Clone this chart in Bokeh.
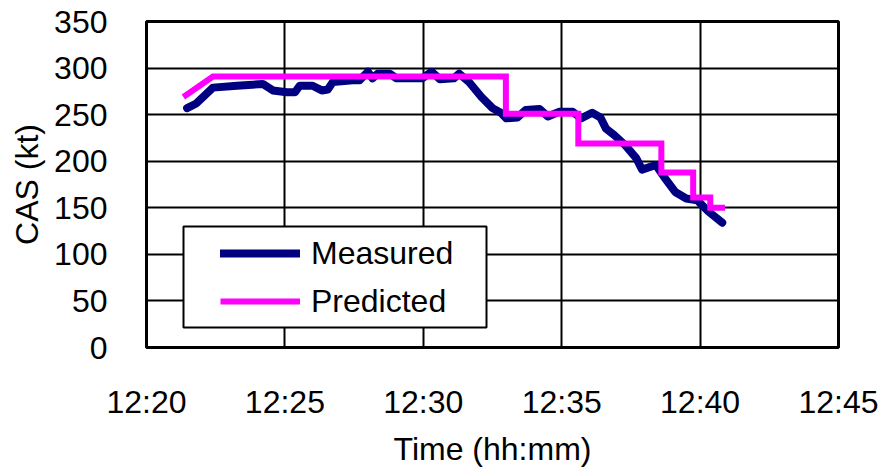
import pandas as pd
from bokeh.plotting import figure
from bokeh.models import Range1d, FixedTicker, DatetimeTickFormatter, Legend, LegendItem, BoxAnnotation
from bokeh.embed import file_html
from bokeh.resources import INLINE

# ---- data ----
measured_time = ["12:21:28", "12:21:48", "12:22:24", "12:23:16", "12:24:12", "12:24:34", "12:25:04",
                 "12:25:22", "12:25:32", "12:26:00", "12:26:20", "12:26:33", "12:26:44", "12:27:27",
                 "12:27:42", "12:28:00", "12:28:10", "12:28:21", "12:28:47", "12:29:02", "12:29:58",
                 "12:30:18", "12:30:36", "12:31:06", "12:31:18", "12:31:39", "12:32:06", "12:32:30",
                 "12:32:48", "12:33:00", "12:33:24", "12:33:42", "12:34:12", "12:34:30", "12:34:54",
                 "12:35:24", "12:35:42", "12:36:06", "12:36:24", "12:36:36", "12:36:54", "12:37:18",
                 "12:37:42", "12:37:54", "12:38:24", "12:38:42", "12:39:06", "12:39:30", "12:39:54",
                 "12:40:18", "12:40:48"]
measured_cas = [257, 262, 279, 281, 283, 276, 274,
                274, 281, 281, 276, 277, 285, 287,
                287, 296, 289, 294, 294, 289, 289,
                296, 288, 289, 294, 285, 269, 257,
                252, 246, 247, 255, 256, 248, 253,
                253, 246, 252, 247, 235, 228, 217,
                203, 191, 196, 183, 167, 160, 158,
                146, 134]

# predicted: ramp between first two points, then stepwise changes
predicted_time = ["12:21:20", "12:22:24", "12:32:59", "12:35:36", "12:38:36", "12:39:45", "12:40:22", "12:40:54"]
predicted_cas = [269, 291, 251, 219, 188, 161, 150, 150]

tick_times = ["12:20", "12:25", "12:30", "12:35", "12:40", "12:45"]
y_ticks = [0, 50, 100, 150, 200, 250, 300, 350]

DAY = "2000-01-01 "
def to_dt(s):
    return pd.to_datetime(DAY + s)

mx = [to_dt(t) for t in measured_time]

# build step path for predicted
px = [to_dt(predicted_time[0]), to_dt(predicted_time[1])]
py = [predicted_cas[0], predicted_cas[1]]
for i in range(2, len(predicted_time) - 1):
    t = to_dt(predicted_time[i])
    px += [t, t]
    py += [predicted_cas[i - 1], predicted_cas[i]]
px.append(to_dt(predicted_time[-1]))
py.append(predicted_cas[-1])

tick_dt = [to_dt(t + ":00") for t in tick_times]
tick_ms = [t.value / 1e6 for t in tick_dt]

FONT = "Liberation Sans"
FS = "32px"

p = figure(width=880, height=469, x_axis_type="datetime",
           x_range=Range1d(tick_dt[0], tick_dt[-1]), y_range=Range1d(0, 350),
           output_backend="svg", toolbar_location=None,
           min_border_left=146, min_border_right=42, min_border_top=21, min_border_bottom=121)

p.background_fill_color = "white"
p.border_fill_color = "white"
p.outline_line_color = "black"
p.outline_line_width = 3

p.xaxis.ticker = FixedTicker(ticks=tick_ms)
p.xaxis.formatter = DatetimeTickFormatter(seconds="%H:%M", minsec="%H:%M", minutes="%H:%M",
                                          hourmin="%H:%M", hours="%H:%M")
p.yaxis.ticker = FixedTicker(ticks=y_ticks)

for ax in (p.xaxis[0], p.yaxis[0]):
    ax.axis_line_color = None
    ax.major_tick_line_color = None
    ax.minor_tick_line_color = None
    ax.major_label_text_font = FONT
    ax.major_label_text_font_size = FS
    ax.major_label_text_color = "black"
    ax.axis_label_text_font = FONT
    ax.axis_label_text_font_size = FS
    ax.axis_label_text_font_style = "normal"
    ax.axis_label_text_color = "black"

p.xaxis.axis_label = "Time (hh:mm)"
p.yaxis.axis_label = "CAS (kt)"
p.xaxis.major_label_standoff = 30
p.yaxis.major_label_standoff = 33
p.xaxis.axis_label_standoff = 8
p.yaxis.axis_label_standoff = 6

p.grid.grid_line_color = "black"
p.grid.grid_line_width = 2
p.grid.grid_line_alpha = 1

r_m = p.line(mx, measured_cas, line_color="#000080", line_width=8, line_join="round", line_cap="round")
r_p = p.line(px, py, line_color="#FF00FF", line_width=6, line_join="miter")

# legend frame (screen units relative to the plot frame, y from bottom)
box = BoxAnnotation(left=37, right=340, bottom=20, top=121,
                    left_units="screen", right_units="screen", top_units="screen", bottom_units="screen",
                    fill_color="white", fill_alpha=1, line_color="black", line_alpha=1, line_width=2)
p.add_layout(box)

legend = Legend(items=[LegendItem(label="Measured", renderers=[r_m]),
                       LegendItem(label="Predicted", renderers=[r_p])],
                location=(67, 19), padding=7, spacing=8, glyph_width=80, glyph_height=40,
                label_height=40, label_standoff=11, border_line_alpha=0, background_fill_alpha=0,
                label_text_font=FONT, label_text_font_size=FS, label_text_color="black")
p.add_layout(legend)

open("out.html", "w").write(file_html(p, INLINE))
